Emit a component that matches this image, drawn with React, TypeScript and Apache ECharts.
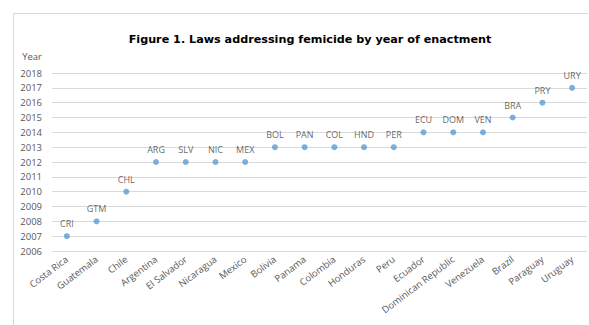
import React, { useEffect, useRef } from "react";
import * as echarts from "echarts";

const countries = [
  "Costa Rica", "Guatemala", "Chile", "Argentina", "El Salvador", "Nicaragua",
  "Mexico", "Bolivia", "Panama", "Colombia", "Honduras", "Peru", "Ecuador",
  "Dominican Republic", "Venezuela", "Brazil", "Paraguay", "Uruguay",
];
const codes = [
  "CRI", "GTM", "CHL", "ARG", "SLV", "NIC", "MEX", "BOL", "PAN", "COL", "HND",
  "PER", "ECU", "DOM", "VEN", "BRA", "PRY", "URY",
];
const years = [
  2007, 2008, 2010, 2012, 2012, 2012, 2012, 2013, 2013, 2013, 2013, 2013, 2014,
  2014, 2014, 2015, 2016, 2017,
];
const title = "Figure 1. Laws addressing femicide by year of enactment";
const yAxisName = "Year";

export default function App() {
  const ref = useRef<HTMLDivElement>(null);
  useEffect(() => {
    if (!ref.current) return;
    const chart = echarts.init(ref.current, undefined, { renderer: "svg" });
    const labelFont = "'Open Sans', 'Liberation Sans', sans-serif";
    chart.setOption({
      animation: false,
      backgroundColor: "#ffffff",
      title: {
        text: title,
        left: 305,
        textAlign: "center",
        top: 29,
        textStyle: {
          fontFamily: "'DejaVu Sans', Verdana, sans-serif",
          fontWeight: "bold",
          fontSize: 11.2,
          color: "#000000",
        },
      },
      graphic: [
        { type: "line", shape: { x1: 13, y1: 13.5, x2: 588, y2: 13.5 }, style: { stroke: "#d9d9d9", lineWidth: 1 } },
        { type: "line", shape: { x1: 13.5, y1: 13, x2: 13.5, y2: 325 }, style: { stroke: "#d9d9d9", lineWidth: 1 } },
      ],
      grid: { left: 52, right: 2, top: 73, bottom: 74, containLabel: false },
      xAxis: {
        type: "category",
        data: countries,
        axisLine: { show: false },
        axisTick: { show: false },
        axisLabel: {
          rotate: 37,
          interval: 0,
          margin: 7,
          fontFamily: labelFont,
          fontSize: 9.5,
          color: "#595959",
        },
      },
      yAxis: {
        type: "value",
        min: 2006,
        max: 2018,
        interval: 1,
        name: yAxisName,
        nameLocation: "end",
        nameGap: 12,
        nameTextStyle: {
          fontFamily: labelFont,
          fontSize: 9.5,
          color: "#595959",
          align: "right",
          padding: [0, 10, 0, 0],
        },
        axisLine: { show: false },
        axisTick: { show: false },
        splitLine: { lineStyle: { color: "#d9d9d9", width: 1 } },
        axisLabel: {
          margin: 10,
          formatter: (v: number) => String(v),
          fontFamily: labelFont,
          fontSize: 9.5,
          color: "#595959",
        },
      },
      series: [
        {
          type: "scatter",
          data: years.map((y, i) => ({ value: y, label: { formatter: codes[i] } })),
          symbol: "circle",
          symbolSize: 6,
          itemStyle: { color: "#5b9bd5" },
          label: {
            show: true,
            position: "top",
            distance: 5,
            fontFamily: labelFont,
            fontSize: 9,
            color: "#404040",
          },
        },
      ],
    });
    return () => chart.dispose();
  }, []);
  return <div ref={ref} style={{ width: 589, height: 325, position: "absolute", left: 0, top: 0 }} />;
}
